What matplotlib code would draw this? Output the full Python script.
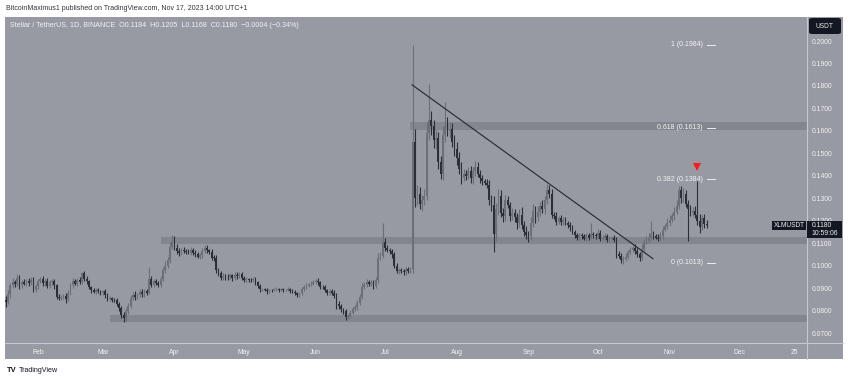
import numpy as np
import pandas as pd
import matplotlib
matplotlib.use("Agg")
import matplotlib.pyplot as plt
import matplotlib.dates as mdates
from matplotlib.patches import Rectangle, FancyBboxPatch
from matplotlib.lines import Line2D

plt.rcParams['font.family'] = ['Liberation Sans', 'DejaVu Sans']

# ---------------- data (prices in 1e-4 USDT) ----------------
start_date = '2023-01-18'
end_date = '2023-11-17'
first_open = 848

close_jan = [840, 872, 912, 928, 918, 944, 912, 926, 920, 931, 921, 938, 893, 908]
close_feb = [930, 942, 921, 933, 910, 925, 932, 912, 862, 855, 861, 866, 850, 880, 912, 931, 920, 936, 928, 965,
             942, 930, 905, 890, 884, 891, 886, 880]
close_mar = [885, 870, 851, 856, 849, 845, 830, 810, 781, 765, 796, 822, 858, 871, 862, 870, 884, 872, 885, 880,
             940, 915, 930, 921, 915, 942, 980, 1000, 1025, 1085, 1105]
close_apr = [1080, 1065, 1055, 1070, 1064, 1062, 1058, 1070, 1058, 1050, 1040, 1046, 1065, 1080, 1068, 1062, 1036,
             1034, 980, 965, 945, 955, 950, 948, 956, 945, 960, 954, 962, 944]
close_may = [935, 941, 938, 934, 940, 925, 910, 895, 896, 893, 885, 892, 890, 894, 896, 892, 896, 890, 891, 896,
             888, 884, 878, 870, 876, 895, 905, 911, 916, 920, 926]
close_jun = [931, 925, 906, 904, 890, 880, 886, 879, 866, 830, 820, 805, 796, 770, 776, 791, 806, 815, 835, 860,
             905, 915, 926, 919, 925, 910, 935, 1035, 1045, 1105]
close_jul = [1080, 1070, 1065, 1050, 1000, 975, 980, 975, 970, 985, 975, 985, 1550, 1300, 1320, 1275, 1290, 1310,
             1590, 1650, 1620, 1560, 1570, 1460, 1410, 1580, 1620, 1600, 1610, 1550, 1520]
close_aug = [1480, 1430, 1390, 1410, 1400, 1420, 1390, 1420, 1440, 1410, 1390, 1375, 1370, 1360, 1290, 1270, 1140,
             1250, 1310, 1235, 1220, 1290, 1270, 1220, 1235, 1215, 1190, 1225, 1180, 1150, 1135]
close_sep = [1130, 1190, 1245, 1215, 1240, 1265, 1250, 1290, 1335, 1320, 1225, 1220, 1195, 1210, 1195, 1205, 1190,
             1180, 1170, 1150, 1135, 1125, 1135, 1130, 1120, 1135, 1125, 1140, 1135, 1130]
close_oct = [1145, 1120, 1125, 1130, 1115, 1120, 1125, 1115, 1050, 1045, 1025, 1030, 1040, 1060, 1070, 1080, 1065,
             1050, 1035, 1075, 1105, 1110, 1125, 1140, 1130, 1125, 1120, 1130, 1160, 1175, 1190]
close_nov = [1205, 1220, 1240, 1265, 1335, 1300, 1320, 1275, 1250, 1235, 1245, 1225, 1200, 1170, 1210, 1184, 1180]

up_jan = [15, 20, 12, 18, 10, 20, 12, 10, 15, 8, 12, 10, 12, 10]
dn_jan = [25, 10, 15, 10, 12, 8, 15, 10, 8, 12, 10, 8, 10, 12]
up_feb = [12, 8, 10, 6, 12, 10, 8, 10, 8, 10, 6, 8, 10, 12, 10, 14, 10, 8, 12, 8, 10, 12, 8, 6, 10, 8, 10, 6]
dn_feb = [10, 8, 12, 10, 8, 10, 12, 15, 12, 10, 8, 10, 15, 8, 10, 12, 8, 10, 8, 10, 12, 10, 8, 10, 8, 10, 8, 12]
up_mar = [8, 10, 8, 10, 6, 8, 10, 8, 10, 12, 15, 10, 12, 10, 15, 8, 10, 12, 10, 12, 56, 15, 10, 12, 10, 12, 15, 20,
          15, 20, 33]
dn_mar = [10, 12, 8, 10, 12, 8, 10, 12, 15, 17, 10, 12, 10, 12, 15, 10, 8, 10, 12, 10, 8, 12, 10, 8, 10, 8, 10, 12,
          10, 15, 10]
up_apr = [25, 15, 12, 10, 12, 8, 10, 12, 8, 10, 12, 10, 15, 12, 10, 8, 12, 10, 15, 10, 12, 10, 8, 12, 10, 8, 12, 10,
          8, 10]
dn_apr = [10, 12, 10, 8, 10, 12, 8, 10, 12, 10, 8, 12, 10, 8, 12, 10, 10, 12, 15, 12, 10, 8, 12, 10, 8, 12, 10, 12,
          8, 10]
up_may = [8, 10, 6, 8, 10, 8, 6, 8, 6, 5, 8, 6, 5, 6, 8, 5, 6, 5, 6, 8, 5, 6, 8, 6, 8, 10, 8, 10, 8, 10, 12]
dn_may = [10, 8, 10, 8, 6, 10, 8, 12, 6, 8, 10, 6, 8, 5, 6, 8, 6, 8, 5, 6, 8, 6, 8, 10, 8, 6, 8, 10, 8, 6, 8]
up_jun = [10, 12, 8, 6, 10, 8, 10, 8, 12, 10, 12, 10, 8, 12, 10, 12, 10, 8, 12, 15, 18, 12, 15, 10, 12, 10, 15, 20,
          15, 85]
dn_jun = [8, 10, 12, 10, 8, 10, 12, 8, 10, 25, 12, 10, 12, 12, 8, 10, 8, 10, 12, 10, 8, 10, 12, 10, 8, 12, 10, 12,
          10, 12]
up_jul = [20, 12, 10, 8, 12, 10, 8, 10, 12, 10, 8, 10, 434, 60, 40, 30, 25, 30, 50, 160, 40, 30, 35, 25, 30, 40, 110,
          40, 30, 25, 30]
dn_jul = [15, 10, 12, 15, 12, 10, 12, 8, 10, 12, 10, 8, 20, 40, 30, 25, 30, 20, 20, 30, 40, 35, 40, 30, 25, 30, 30,
          25, 30, 20, 30]
up_aug = [30, 25, 30, 20, 15, 20, 25, 20, 25, 20, 15, 12, 10, 15, 20, 25, 40, 30, 30, 25, 20, 25, 20, 15, 20, 15, 20,
          25, 35, 20, 25]
dn_aug = [30, 20, 25, 15, 20, 15, 20, 25, 20, 15, 20, 15, 12, 15, 20, 25, 80, 30, 25, 20, 25, 20, 15, 20, 15, 20, 25,
          20, 15, 20, 15]
up_sep = [20, 25, 30, 20, 25, 20, 25, 20, 30, 25, 20, 15, 20, 12, 15, 10, 12, 10, 15, 12, 10, 12, 8, 10, 12, 10, 8,
          50, 10, 12]
dn_sep = [25, 15, 20, 25, 15, 20, 15, 20, 15, 20, 15, 12, 15, 10, 12, 15, 10, 12, 15, 10, 12, 10, 12, 10, 8, 12, 10,
          8, 10, 12]
up_oct = [20, 12, 10, 15, 10, 12, 8, 10, 12, 15, 10, 12, 15, 10, 12, 10, 15, 12, 10, 20, 15, 20, 20, 60, 15, 12, 15,
          20, 15, 12, 20]
dn_oct = [12, 10, 8, 10, 12, 10, 8, 10, 15, 12, 12, 17, 10, 12, 10, 8, 12, 10, 15, 10, 12, 10, 8, 12, 10, 8, 10, 12,
          10, 8, 12]
up_nov = [20, 15, 20, 25, 18, 20, 25, 15, 15, 20, 15, 20, 150, 30, 15, 20, 21]
dn_nov = [15, 12, 15, 10, 15, 20, 15, 12, 142, 15, 12, 15, 20, 25, 12, 15, 12]

# horizontal zones
zone_start = ['2023-07-12', '2023-03-26', '2023-03-04']
zone_low = [0.1604, 0.1098, 0.0751]
zone_high = [0.1640, 0.1129, 0.0782]

# fibonacci levels
fib_ratio = ['1', '0.618', '0.382', '0']
fib_price = [0.1984, 0.1613, 0.1384, 0.1013]

# descending trend line
trend_dates = ['2023-07-12 16:00', '2023-10-24 19:00']
trend_price = [0.1805, 0.1031]

# red marker
marker_date = '2023-11-13'
marker_price = 0.1440

price_ticks = [0.07, 0.08, 0.09, 0.10, 0.11, 0.12, 0.13, 0.14, 0.15, 0.16, 0.17, 0.18, 0.19, 0.20]
time_ticks = ['2023-02-01', '2023-03-01', '2023-04-01', '2023-05-01', '2023-06-01', '2023-07-01',
              '2023-08-01', '2023-09-01', '2023-10-01', '2023-11-01', '2023-12-01', '2023-12-25']
time_labels = ['Feb', 'Mar', 'Apr', 'May', 'Jun', 'Jul', 'Aug', 'Sep', 'Oct', 'Nov', 'Dec', '25']

last_price = '0.1180'
countdown = '10:59:06'
# ------------------------------------------------------------

closes = np.array(close_jan + close_feb + close_mar + close_apr + close_may + close_jun + close_jul +
                  close_aug + close_sep + close_oct + close_nov, dtype=float) / 1e4
ups = np.array(up_jan + up_feb + up_mar + up_apr + up_may + up_jun + up_jul + up_aug + up_sep + up_oct + up_nov,
               dtype=float) / 1e4
dns = np.array(dn_jan + dn_feb + dn_mar + dn_apr + dn_may + dn_jun + dn_jul + dn_aug + dn_sep + dn_oct + dn_nov,
               dtype=float) / 1e4
dates = pd.date_range(start_date, end_date, freq='D')
assert len(closes) == len(dates) == len(ups) == len(dns), (len(closes), len(dates), len(ups), len(dns))
opens = np.concatenate([[first_open / 1e4], closes[:-1]])
highs = np.maximum(opens, closes) + ups
lows = np.minimum(opens, closes) - dns
xd = mdates.date2num(dates.to_pydatetime())

W, H = 850, 381
fig = plt.figure(figsize=(W / 100, H / 100), dpi=100)
fig.patch.set_facecolor('white')


def fx(x):
    return x / W


def fy(y):
    return 1 - y / H


BG = '#979aa3'
# panel background
fig.patches.append(Rectangle((fx(5), fy(359)), fx(843) - fx(5), fy(17) - fy(359), transform=fig.transFigure,
                             facecolor=BG, edgecolor='none', zorder=-5))

ax = fig.add_axes([fx(5), fy(343), fx(806.7) - fx(5), fy(17) - fy(343)])
ax.set_zorder(2)
ax.set_facecolor('none')
for s in ax.spines.values():
    s.set_visible(False)

# axis scaling: Feb 1 at x=38px, Dec 1 at x=739px
feb1 = mdates.date2num(pd.Timestamp('2023-02-01'))
dec1 = mdates.date2num(pd.Timestamp('2023-12-01'))
ppd = (739 - 38) / (dec1 - feb1)
ax.set_xlim(feb1 - (38 - 5) / ppd, feb1 + (806.7 - 38) / ppd)
ppu = (333 - 41) / 0.13
ax.set_ylim(0.20 - (343 - 41) / ppu, 0.20 + (41 - 17) / ppu)

# zones
xmax = ax.get_xlim()[1]
for s, lo, hi in zip(zone_start, zone_low, zone_high):
    x0 = mdates.date2num(pd.Timestamp(s))
    ax.add_patch(Rectangle((x0, lo), xmax - x0, hi - lo, facecolor='#83868e', edgecolor='none', zorder=1))

# candles
UP = '#6c6f78'
DN = '#2c2f37'
cols = np.where(closes >= opens, UP, DN)
ax.vlines(xd, lows, highs, colors=cols, linewidth=0.8, zorder=3)
body_lo = np.minimum(opens, closes)
body_h = np.maximum(np.abs(closes - opens), 0.0003)
ax.bar(xd, body_h, bottom=body_lo, width=0.75, color=cols, linewidth=0, zorder=4)

# trend line
tdx = mdates.date2num([pd.Timestamp(d) for d in trend_dates])
ax.plot(tdx, trend_price, color='#25272d', linewidth=0.8, zorder=5)

# fib labels
lab_x = feb1 + (703 - 38) / ppd
d0 = feb1 + (707 - 38) / ppd
d1 = feb1 + (715 - 38) / ppd
for r, p in zip(fib_ratio, fib_price):
    ax.text(lab_x, p, f'{r} ({p:.4f})', ha='right', va='center', fontsize=5.0, color='#f4f4f4', zorder=6)
    ax.plot([d0, d1], [p, p], color='#eeeeee', linewidth=0.7, zorder=6)

# red triangle
ax.plot(mdates.date2num(pd.Timestamp(marker_date)), marker_price, marker='v', color='#ff1a1a',
        markersize=5.4, markeredgewidth=0, zorder=7)

# ticks
ax.yaxis.tick_right()
ax.set_yticks(price_ticks)
ax.set_yticklabels([f'{v:.4f}' for v in price_ticks])
ax.tick_params(axis='y', length=0, pad=3.6, labelsize=4.9, labelcolor='#f2f2f2')
ax.set_xticks(mdates.date2num([pd.Timestamp(d) for d in time_ticks]))
ax.set_xticklabels(time_labels)
ax.tick_params(axis='x', length=0, pad=4.2, labelsize=4.9, labelcolor='#f2f2f2')

# separators
fig.lines.append(Line2D([fx(806.7), fx(806.7)], [fy(17), fy(359)], transform=fig.transFigure,
                        color='#c6c8cd', linewidth=0.8, zorder=5))
fig.lines.append(Line2D([fx(5), fx(843)], [fy(343), fy(343)], transform=fig.transFigure,
                        color='#c6c8cd', linewidth=0.8, zorder=5))

# USDT box
fig.patches.append(FancyBboxPatch((fx(809), fy(34)), fx(841) - fx(809), fy(18) - fy(34),
                                  boxstyle='round,pad=0,rounding_size=0.004', transform=fig.transFigure,
                                  facecolor='#131722', edgecolor='none', zorder=6))
fig.text(fx(825), fy(26), 'USDT', ha='center', va='center', fontsize=4.8, color='#e8e8e8', zorder=7)

# last price labels
fig.patches.append(Rectangle((fx(771.7), fy(229.5)), fx(806.2) - fx(771.7), fy(220.7) - fy(229.5),
                             transform=fig.transFigure, facecolor='#131722', edgecolor='none', zorder=6))
fig.text(fx(789), fy(225.2), 'XLMUSDT', ha='center', va='center', fontsize=4.7, color='#f0f0f0', zorder=7)
fig.patches.append(Rectangle((fx(807.2), fy(238.3)), fx(842) - fx(807.2), fy(220.7) - fy(238.3),
                             transform=fig.transFigure, facecolor='#131722', edgecolor='none', zorder=6))
fig.text(fx(811.5), fy(225.4), last_price, ha='left', va='center', fontsize=4.9, color='#f0f0f0', zorder=7)
fig.text(fx(811.5), fy(233.6), countdown, ha='left', va='center', fontsize=4.9, color='#f0f0f0', zorder=7)

# header & legend
fig.text(fx(6), fy(8.5), 'BitcoinMaximus1 published on TradingView.com, Nov 17, 2023 14:00 UTC+1',
         ha='left', va='center', fontsize=5.0, color='#30333b')
fig.text(fx(10), fy(25.5), 'Stellar / TetherUS, 1D, BINANCE  O0.1184  H0.1205  L0.1168  C0.1180  \u22120.0004 (\u22120.34%)',
         ha='left', va='center', fontsize=5.1, color='#f2f2f2')

# footer logo
fig.text(fx(7), fy(371), 'TV', ha='left', va='center', fontsize=5.4, fontweight='heavy', color='#131722')
fig.text(fx(19), fy(371), 'TradingView', ha='left', va='center', fontsize=5.1, color='#131722')

fig.savefig('out.png', dpi=100, facecolor='white')
